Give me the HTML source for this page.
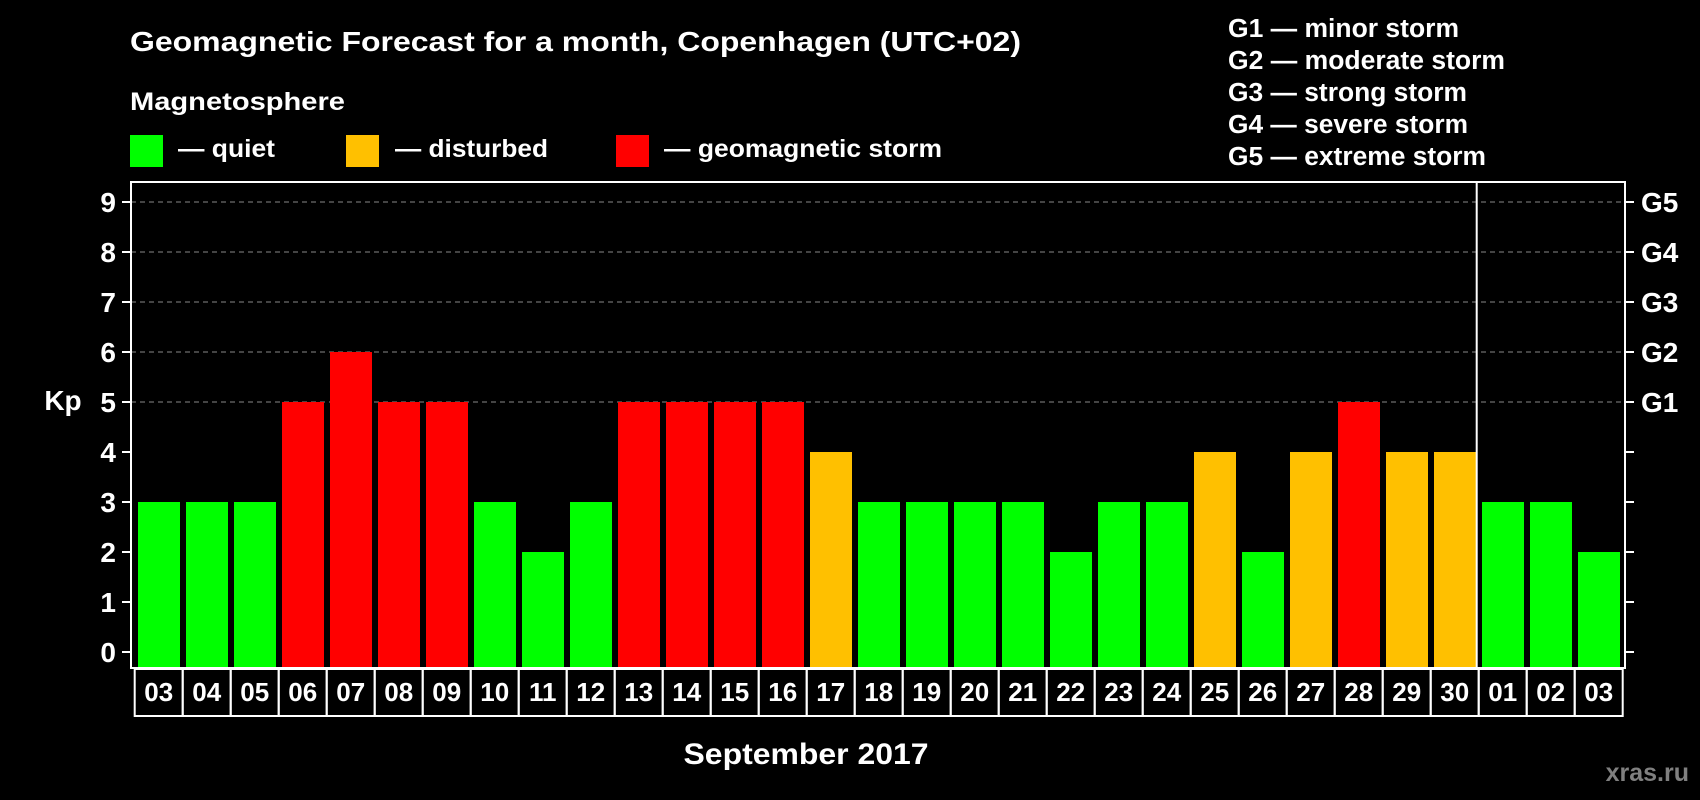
<!DOCTYPE html>
<html><head><meta charset="utf-8"><style>
html,body{margin:0;padding:0;background:#000;}
svg{display:block;font-family:"Liberation Sans",Arial,sans-serif;font-weight:bold;}
</style></head><body>
<svg id="chart" width="1700" height="800" viewBox="0 0 1700 800" xmlns="http://www.w3.org/2000/svg">
<rect x="0" y="0" width="1700" height="800" fill="#000"/>
<text x="130" y="51" font-size="28" fill="#fff" textLength="891" lengthAdjust="spacingAndGlyphs">Geomagnetic Forecast for a month, Copenhagen (UTC+02)</text>
<text x="130" y="110" font-size="25" fill="#fff" textLength="215" lengthAdjust="spacingAndGlyphs">Magnetosphere</text>
<g>
<rect x="130" y="135" width="33" height="32" fill="#00ff00"/>
<text x="178" y="157" font-size="25" fill="#fff" textLength="97" lengthAdjust="spacingAndGlyphs">— quiet</text></g>
<g>
<rect x="346" y="135" width="33" height="32" fill="#ffc000"/>
<text x="395" y="157" font-size="25" fill="#fff" textLength="153" lengthAdjust="spacingAndGlyphs">— disturbed</text></g>
<g>
<rect x="616" y="135" width="33" height="32" fill="#ff0000"/>
<text x="664" y="157" font-size="25" fill="#fff" textLength="278" lengthAdjust="spacingAndGlyphs">— geomagnetic storm</text></g>
<g font-size="25.5" fill="#fff">
<text x="1228" y="37" textLength="231" lengthAdjust="spacingAndGlyphs">G1 — minor storm</text>
<text x="1228" y="69" textLength="277" lengthAdjust="spacingAndGlyphs">G2 — moderate storm</text>
<text x="1228" y="101" textLength="239" lengthAdjust="spacingAndGlyphs">G3 — strong storm</text>
<text x="1228" y="133" textLength="240" lengthAdjust="spacingAndGlyphs">G4 — severe storm</text>
<text x="1228" y="165" textLength="258" lengthAdjust="spacingAndGlyphs">G5 — extreme storm</text>
</g>
<g id="grid"></g>
<g id="bars"></g>
<g id="axes"></g>
<text x="63" y="410" font-size="28" fill="#fff" text-anchor="middle">Kp</text>
<text x="806" y="764" font-size="30" fill="#fff" text-anchor="middle" textLength="245" lengthAdjust="spacingAndGlyphs">September 2017</text>
<text x="1689" y="781" font-size="25" fill="#808080" text-anchor="end">xras.ru</text>
</svg>
<script>
const days = ["03","04","05","06","07","08","09","10","11","12","13","14","15","16","17","18","19","20","21","22","23","24","25","26","27","28","29","30","01","02","03"];
const kpValues = [3,3,3,5,6,5,5,3,2,3,5,5,5,5,4,3,3,3,3,2,3,3,4,2,4,5,4,4,3,3,2];
const yTicks = ["0","1","2","3","4","5","6","7","8","9"];
const gLabels = ["G1","G2","G3","G4","G5"];
const gLevels = [5,6,7,8,9];
const monthBreakIndex = 28;

const NS = "http://www.w3.org/2000/svg";
const frameL = 131, frameR = 1625, frameT = 182, frameB = 668;
const y0 = 652, unit = 50;
const slot0 = 134.7, slotW = 48, barW = 42;
function yScale(v){ return y0 - v*unit; }
function xSlot(i){ return slot0 + i*slotW; }
function colorFor(v){ return v >= 5 ? "#ff0000" : (v >= 4 ? "#ffc000" : "#00ff00"); }
function mk(tag, attrs, parent){
  const el = document.createElementNS(NS, tag);
  for (const k in attrs) el.setAttribute(k, attrs[k]);
  parent.appendChild(el);
  return el;
}
const grid = document.getElementById('grid');
const bars = document.getElementById('bars');
const axes = document.getElementById('axes');

gLevels.forEach(function(v){
  const l = mk('line', {x1: frameL, x2: frameR, y1: yScale(v), y2: yScale(v), stroke: '#888', 'stroke-width': 1, 'stroke-dasharray': '5,4'}, grid);
  
  
});

kpValues.forEach(function(v, i){
  const r = mk('rect', {x: xSlot(i) + 3.3, y: yScale(v), width: barW, height: frameB - yScale(v), fill: colorFor(v)}, bars);
  
  
});

const frame = mk('rect', {x: frameL, y: frameT, width: frameR - frameL, height: frameB - frameT, fill: 'none', stroke: '#fff', 'stroke-width': 2}, axes);


const divX = xSlot(monthBreakIndex) - 2;
const div = mk('line', {x1: divX, x2: divX, y1: frameT, y2: frameB, stroke: '#fff', 'stroke-width': 2}, axes);



yTicks.forEach(function(t, i){
  const y = yScale(+t);
  const tl = mk('line', {x1: 122, x2: frameL, y1: y, y2: y, stroke: '#fff', 'stroke-width': 2}, axes);
  
  
  const tr = mk('line', {x1: frameR, x2: 1634, y1: y, y2: y, stroke: '#fff', 'stroke-width': 2}, axes);
  
  
  const tx = mk('text', {x: 116, y: y + 10, 'font-size': 28, fill: '#fff', 'text-anchor': 'end'}, axes);
  tx.textContent = t;
  
  
});

gLabels.forEach(function(g, i){
  const tx = mk('text', {x: 1641, y: yScale(gLevels[i]) + 10, 'font-size': 28, fill: '#fff'}, axes);
  tx.textContent = g;
  
  
});

days.forEach(function(d, i){
  const bx = mk('rect', {x: xSlot(i), y: 669, width: slotW, height: 47, fill: 'none', stroke: '#fff', 'stroke-width': 2}, axes);
  
  
  const tx = mk('text', {x: xSlot(i) + slotW/2, y: 701, 'font-size': 26, fill: '#fff', 'text-anchor': 'middle'}, axes);
  tx.textContent = d;
  
  
});
</script>
</body></html>
